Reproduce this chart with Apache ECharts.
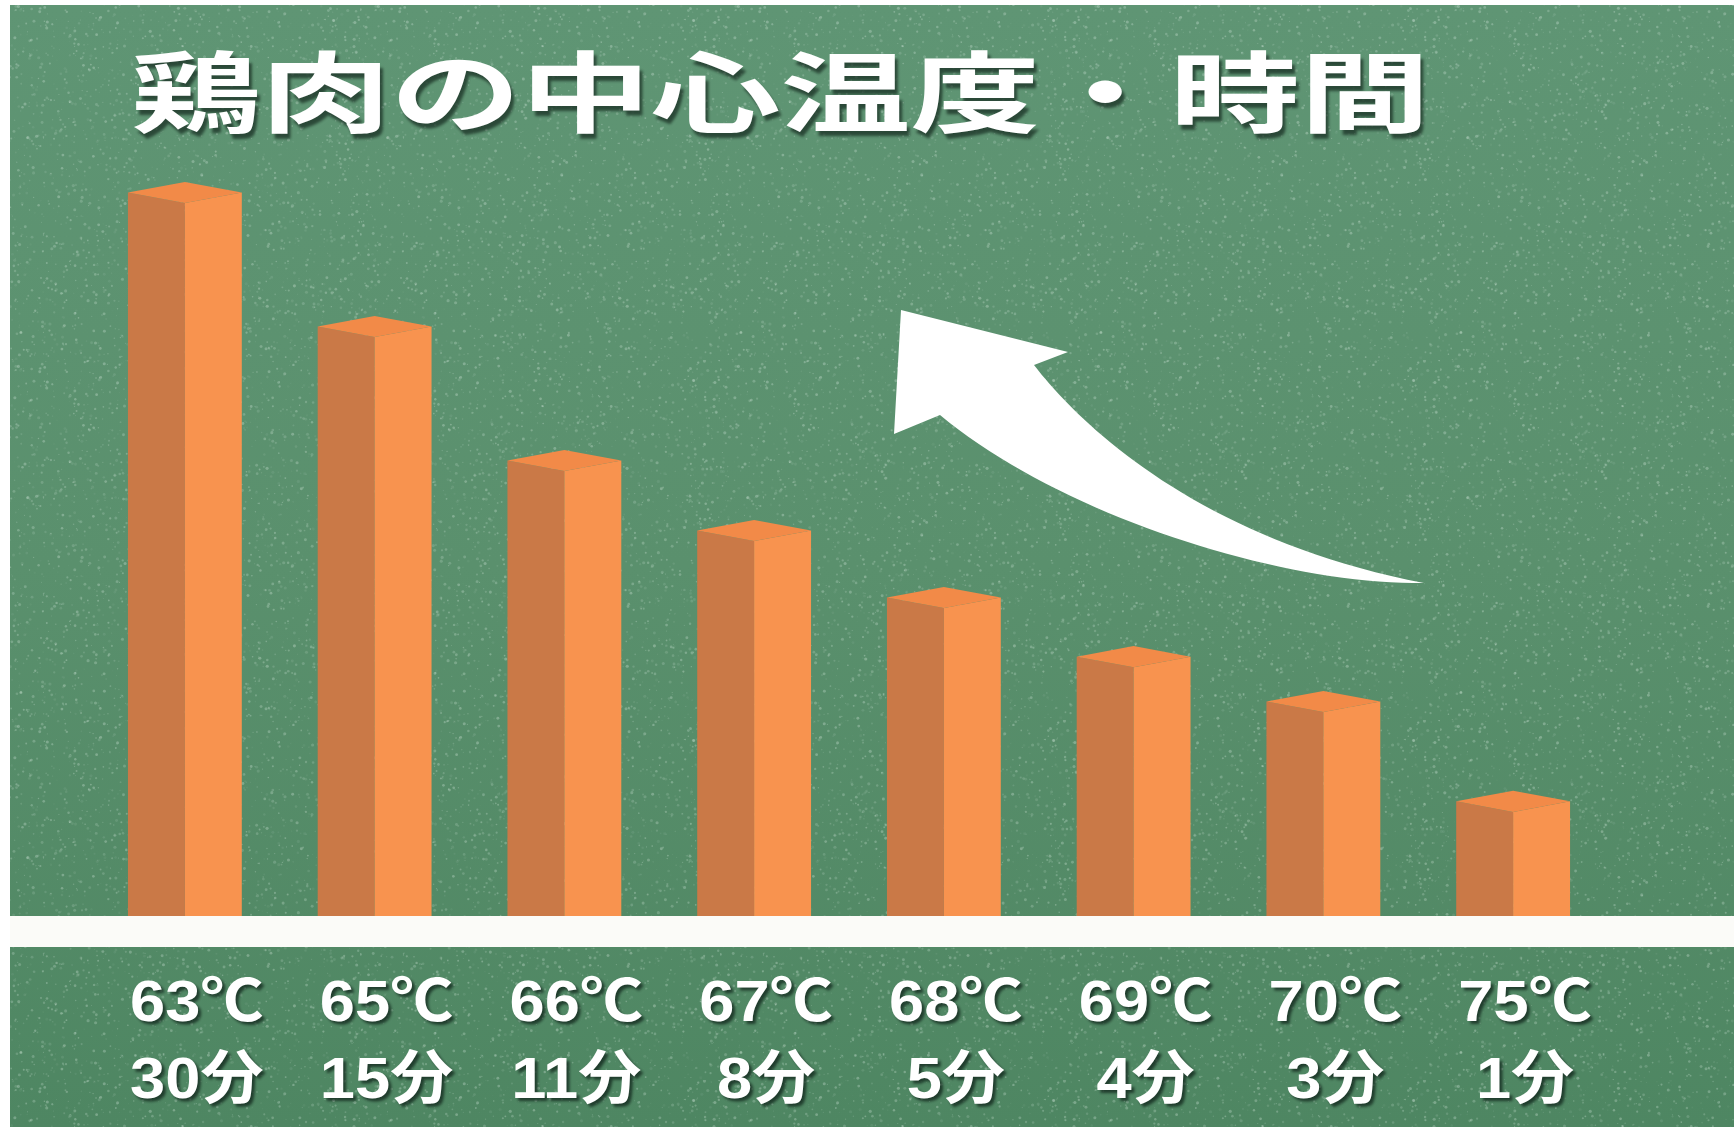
<!DOCTYPE html>
<html lang="ja">
<head>
<meta charset="utf-8">
<title>鶏肉の中心温度・時間</title>
<script src="https://cdn.jsdelivr.net/npm/echarts@6/dist/echarts.min.js"></script>
<style>
  html, body { margin: 0; padding: 0; background: #ffffff; }
  #chart { width: 1734px; height: 1130px; }
</style>
</head>
<body>
<div id="chart"></div>
<script>
// Core temperature and holding time for chicken
const temperatures = ['63℃', '65℃', '66℃', '67℃', '68℃', '69℃', '70℃', '75℃'];
const holdTimes = ['30分', '15分', '11分', '8分', '5分', '4分', '3分', '1分'];
// relative bar heights (tallest = 100)
const barHeights = [100, 81.2, 62.4, 52.6, 43.2, 34.9, 28.6, 14.6];

const titleText = '鶏肉の中心温度・時間';

// chalk-dust texture for the board
function makeChalkTexture() {
  const c = document.createElement('canvas');
  c.width = 360; c.height = 360;
  const ctx = c.getContext('2d');
  let seed = 1234567;
  const rnd = () => { seed = (seed * 1103515245 + 12345) % 2147483648; return seed / 2147483648; };
  for (let i = 0; i < 2600; i++) {
    const x = rnd() * 360, y = rnd() * 360;
    const r = 0.4 + rnd() * 1.2;
    ctx.fillStyle = 'rgba(230,245,236,' + (0.04 + rnd() * 0.26).toFixed(3) + ')';
    ctx.beginPath(); ctx.arc(x, y, r, 0, Math.PI * 2); ctx.fill();
  }
  return c;
}
const chalk = makeChalkTexture();

// outline of the curved arrow: head, then two cubic curves meeting at the tail
function cubic(p0, p1, p2, p3, n) {
  const pts = [];
  for (let i = 1; i <= n; i++) {
    const t = i / n, u = 1 - t;
    pts.push([
      u * u * u * p0[0] + 3 * u * u * t * p1[0] + 3 * u * t * t * p2[0] + t * t * t * p3[0],
      u * u * u * p0[1] + 3 * u * u * t * p1[1] + 3 * u * t * t * p2[1] + t * t * t * p3[1]
    ]);
  }
  return pts;
}
const arrowPoints = [[901, 310], [1068, 352], [1034, 365]]
  .concat(cubic([1034, 365], [1080, 425], [1200, 540], [1424, 583], 40))
  .concat(cubic([1424, 583], [1280, 585], [1060, 515], [940, 415], 40))
  .concat([[894, 434]]);

const chart = echarts.init(document.getElementById('chart'), null, { renderer: 'canvas' });

const labelFont = 'bold 58px "Liberation Sans", "Noto Sans CJK JP", sans-serif';
const labelShadow = {
  textShadowColor: 'rgba(15,35,25,0.75)',
  textShadowBlur: 3,
  textShadowOffsetX: 3,
  textShadowOffsetY: 3
};

const option = {
  backgroundColor: '#ffffff',
  animation: false,
  grid: { left: 90, right: 126, top: 203, bottom: 214, containLabel: false },
  xAxis: {
    type: 'category',
    data: temperatures,
    axisLine: { show: false },
    axisTick: { show: false },
    splitLine: { show: false },
    axisLabel: { show: false }
  },
  yAxis: { type: 'value', min: 0, max: 100, show: false },
  graphic: [
    { // chalkboard
      type: 'rect', z: -10, silent: true,
      shape: { x: 10, y: 5, width: 1724, height: 1122 },
      style: {
        fill: new echarts.graphic.LinearGradient(0, 0, 0, 1, [
          { offset: 0, color: '#5f9574' },
          { offset: 0.5, color: '#5a906d' },
          { offset: 1, color: '#4e8662' }
        ])
      }
    },
    { // chalk dust
      type: 'rect', z: -9, silent: true,
      shape: { x: 10, y: 5, width: 1724, height: 1122 },
      style: { fill: { image: chalk, repeat: 'repeat' } }
    },
    { // white ledge under the bars
      type: 'rect', z: 10, silent: true,
      shape: { x: 10, y: 916, width: 1724, height: 31 },
      style: { fill: '#fbfbf8' }
    },
    { // rising arrow
      type: 'polygon', z: 5, silent: true,
      shape: { points: arrowPoints },
      style: { fill: '#ffffff' }
    },
    { // heading, set in a widened face
      type: 'text', z: 20, silent: true,
      x: 131, y: 92, scaleX: 1.476, scaleY: 1,
      style: Object.assign({
        text: titleText,
        fill: '#ffffff',
        font: 'bold 88px "Noto Sans CJK JP", sans-serif',
        align: 'left',
        verticalAlign: 'middle'
      }, {
        textShadowColor: 'rgba(20,40,30,0.7)',
        textShadowBlur: 3,
        textShadowOffsetX: 3,
        textShadowOffsetY: 5
      })
    }
  ],
  series: [{
    type: 'custom',
    clip: false,
    data: barHeights.map((v, i) => [i, v]),
    encode: { x: 0, y: 1 },
    renderItem: function (params, api) {
      const top = api.coord([api.value(0), api.value(1)]);
      const base = api.coord([api.value(0), 0]);
      const band = api.size([1, 0])[0];
      const hw = band * 0.3;
      const dy = hw * 0.185;
      const cx = top[0], yf = top[1], yb = base[1];
      return {
        type: 'group',
        children: [
          { type: 'polygon', shape: { points: [[cx - hw, yf - dy], [cx, yf], [cx, yb], [cx - hw, yb]] },
            style: { fill: '#ca7947' } },
          { type: 'polygon', shape: { points: [[cx, yf], [cx + hw, yf - dy], [cx + hw, yb], [cx, yb]] },
            style: { fill: '#f8934f' } },
          { type: 'polygon', shape: { points: [[cx - hw, yf - dy], [cx, yf - 2 * dy], [cx + hw, yf - dy], [cx, yf]] },
            style: { fill: '#f28a48' } }
        ]
      };
    }
  }, {
    // two-line category labels (temperature / time) under the ledge
    type: 'custom',
    clip: false,
    silent: true,
    data: temperatures.map((t, i) => [i, 0]),
    encode: { x: 0, y: 1 },
    renderItem: function (params, api) {
      const idx = params.dataIndex;
      const p = api.coord([api.value(0), 0]);
      const cx = p[0] + 12;
      const mk = (text, y) => ({
        type: 'text', x: cx, y: y, scaleX: 1.09, scaleY: 1,
        style: Object.assign({
          text: text, fill: '#ffffff', font: labelFont,
          align: 'center', verticalAlign: 'middle'
        }, labelShadow)
      });
      return {
        type: 'group',
        children: [mk(temperatures[idx], p[1] + 89), mk(holdTimes[idx], p[1] + 166)]
      };
    }
  }]
};

chart.setOption(option);
</script>
</body>
</html>
